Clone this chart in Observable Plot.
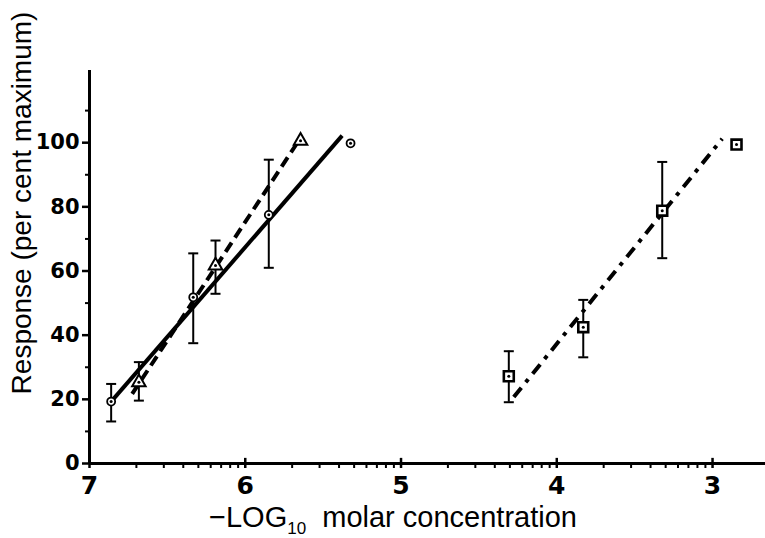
<!DOCTYPE html>
<html>
<head>
<meta charset="utf-8">
<script src="https://cdn.jsdelivr.net/npm/d3@7"></script>
<script src="https://cdn.jsdelivr.net/npm/@observablehq/plot@0.6"></script>
<style>
  html, body { margin: 0; padding: 0; background: white; }
  svg { display: block; }
</style>
</head>
<body>
<div id="chart"></div>
<script>
// ---- tick labels ----
const xTicks = [7, 6, 5, 4, 3];
const yTicks = [0, 20, 40, 60, 80, 100];
const yMinor = [10, 30, 50, 70, 90, 110];

// ---- circles (solid fit) ----
const circleX  = [6.861, 6.334, 5.849, 5.324];
const circleY  = [19.3, 51.8, 77.5, 99.8];
const circleLo = [13.1, 37.5, 61.0, null];
const circleHi = [24.8, 65.5, 94.7, null];
const solidFitX = [6.861, 5.378];
const solidFitY = [19.3, 102.2];

// ---- triangles (dashed fit) ----
const triX  = [6.683, 6.191, 5.645];
const triY  = [25.3, 61.7, 100.6];
const triLo = [19.6, 52.9, null];
const triHi = [31.6, 69.5, null];
const dashFitX = [6.726, 5.645];
const dashFitY = [21.7, 101.5];

// ---- squares (dash-dot fit) ----
const sqX  = [4.308, 3.830, 3.323, 2.846];
const sqY  = [27.2, 42.5, 78.8, 99.4];
const sqLo = [19.1, 33.1, 64.0, null];
const sqHi = [35.0, 51.0, 94.0, null];
const dotDashFitX = [4.276, 2.938];
const dotDashFitY = [20.7, 101.2];

// build tables
const toPts = (xs, ys, lo, hi) => xs.map((x, i) => ({x, y: ys[i], lo: lo ? lo[i] : null, hi: hi ? hi[i] : null}));
const circles = toPts(circleX, circleY, circleLo, circleHi);
const tris = toPts(triX, triY, triLo, triHi);
const squares = toPts(sqX, sqY, sqLo, sqHi);
const allPts = [...circles, ...tris, ...squares];
const errPts = allPts.filter(d => d.lo != null);
const solidFit = toPts(solidFitX, solidFitY);
const dashFit = toPts(dashFitX, dashFitY);
const dotDashFit = toPts(dotDashFitX, dotDashFitY);

// minor log ticks between majors
const xMinor = [];
for (const n of [7, 6, 5, 4]) for (let k = 2; k <= 9; k++) xMinor.push(n - Math.log10(k));

const capSymbol = {
  draw(ctx, size) { const r = Math.sqrt(size / Math.PI); ctx.moveTo(-r, 0); ctx.lineTo(r, 0); }
};

const plot = Plot.plot({
  width: 765,
  height: 538,
  marginLeft: 89,
  marginRight: 0,
  marginTop: 70,
  marginBottom: 75,
  style: {background: "white", color: "black", fontFamily: "'Liberation Sans', Arial, sans-serif"},
  x: {domain: [7, 2.66]},
  y: {domain: [0, 122.5]},
  marks: [
    // axis lines
    Plot.ruleY([0], {strokeWidth: 3}),
    Plot.ruleX([7], {y1: 0, y2: 122.5, strokeWidth: 3}),
    // x axis ticks
    Plot.axisX({ticks: xTicks, tickSize: 5, tickPadding: 8, strokeWidth: 2.5, label: null,
      fontSize: 25, fontWeight: "bold", fontFamily: "'DejaVu Sans', sans-serif", tickFormat: d => String(d)}),
    Plot.ruleX(xTicks, {x: d => d, y1: 0, y2: 1.6, strokeWidth: 2.5}),
    Plot.axisX({ticks: xMinor, tickSize: 5, strokeWidth: 2, label: null, tickFormat: () => ""}),
    // y axis ticks
    Plot.axisY({ticks: yTicks, tickSize: 7, tickPadding: 3, strokeWidth: 2.5, label: null,
      fontSize: 21, fontWeight: "bold", fontFamily: "'DejaVu Sans', sans-serif", tickFormat: d => String(d)}),
    Plot.axisY({ticks: yMinor, tickSize: 4, strokeWidth: 2, label: null, tickFormat: () => ""}),
    // fitted lines
    Plot.line(solidFit, {x: "x", y: "y", strokeWidth: 4, strokeLinecap: "butt"}),
    Plot.line(dashFit, {x: "x", y: "y", strokeWidth: 4, strokeDasharray: "11,6", strokeLinecap: "butt"}),
    Plot.line(dotDashFit, {x: "x", y: "y", strokeWidth: 4, strokeDasharray: "12,7,4,7", strokeLinecap: "butt"}),
    // error bars
    Plot.ruleX(errPts, {x: "x", y1: "lo", y2: "hi", strokeWidth: 2}),
    Plot.dot(errPts, {x: "x", y: "lo", symbol: capSymbol, r: 5, stroke: "black", strokeWidth: 2}),
    Plot.dot(errPts, {x: "x", y: "hi", symbol: capSymbol, r: 5, stroke: "black", strokeWidth: 2}),
    // markers
    Plot.dot(circles, {x: "x", y: "y", r: 4, fill: "white", stroke: "black", strokeWidth: 1.8}),
    Plot.dot(tris, {x: "x", y: "y", symbol: "triangle", r: 5, fill: "white", stroke: "black", strokeWidth: 2}),
    Plot.dot(squares, {x: "x", y: "y", symbol: "square", r: 5.6, fill: "white", stroke: "black", strokeWidth: 2.6}),
    Plot.dot(allPts, {x: "x", y: "y", r: 1.5, fill: "black"}),
    // y axis title
    Plot.text(["Response (per cent maximum)"], {frameAnchor: "left", textAnchor: "middle", dx: -67, dy: -64, rotate: -90,
      fontSize: 28, fill: "black"})
  ]
});

document.getElementById("chart").appendChild(plot);

// x axis title with subscript
const t = d3.select(plot).append("text")
  .attr("x", 393).attr("y", 527)
  .attr("text-anchor", "middle")
  .attr("font-size", 29)
  .attr("font-family", "'Liberation Sans', Arial, sans-serif")
  .attr("fill", "black");
t.append("tspan").text("\u2212LOG");
t.append("tspan").attr("font-size", 17).attr("dy", 7).text("10");
t.append("tspan").attr("dy", -7).text("\u00a0\u00a0molar concentration");
</script>
</body>
</html>
